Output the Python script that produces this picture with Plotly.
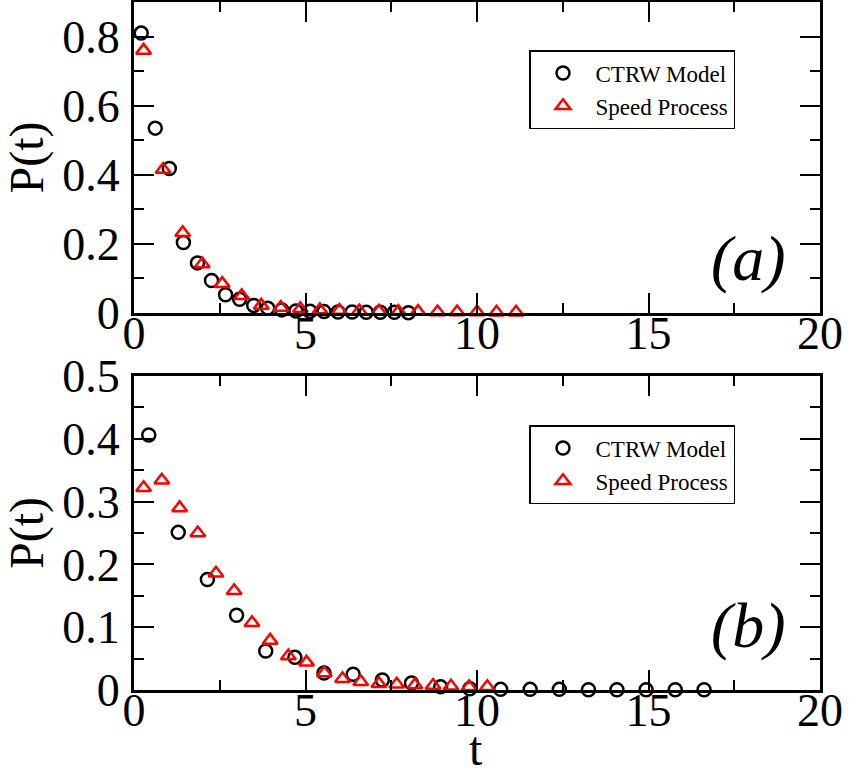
import plotly.graph_objects as go
from plotly.subplots import make_subplots

# Panel (a)
t_ctrw_a = [0.21, 0.62, 1.03, 1.44, 1.85, 2.26, 2.67, 3.08, 3.49, 3.90,
            4.31, 4.72, 5.13, 5.54, 5.95, 6.36, 6.77, 7.18, 7.59, 8.00]
p_ctrw_a = [0.81, 0.535, 0.418, 0.204, 0.145, 0.094, 0.053, 0.040, 0.022, 0.014,
            0.009, 0.006, 0.005, 0.004, 0.003, 0.003, 0.002, 0.002, 0.002, 0.001]
t_speed_a = [0.28, 0.85, 1.42, 1.99, 2.57, 3.14, 3.71, 4.28, 4.85, 5.42,
             5.99, 6.57, 7.14, 7.71, 8.28, 8.85, 9.42, 10.00, 10.57, 11.14]
p_speed_a = [0.76, 0.415, 0.232, 0.142, 0.085, 0.050, 0.022, 0.016, 0.012, 0.009,
             0.007, 0.006, 0.005, 0.004, 0.004, 0.003, 0.003, 0.003, 0.002, 0.002]

# Panel (b)
t_ctrw_b = [0.43, 1.29, 2.14, 2.99, 3.84, 4.69, 5.54, 6.39, 7.24, 8.09,
            8.94, 9.79, 10.69, 11.55, 12.40, 13.25, 14.08, 14.93, 15.78, 16.62]
p_ctrw_b = [0.406, 0.251, 0.176, 0.119, 0.062, 0.052, 0.027, 0.025, 0.016, 0.011,
            0.005, 0.002, 0.001, 0.001, 0.001, 0.0005, 0.0005, 0.0005, 0.0003, 0.0003]
t_speed_b = [0.28, 0.81, 1.33, 1.86, 2.39, 2.92, 3.44, 3.97, 4.50, 5.03,
             5.55, 6.08, 6.61, 7.14, 7.66, 8.19, 8.72, 9.24, 9.77, 10.30]
p_speed_b = [0.322, 0.334, 0.290, 0.250, 0.186, 0.158, 0.107, 0.079, 0.054, 0.044,
             0.027, 0.018, 0.013, 0.010, 0.009, 0.008, 0.007, 0.006, 0.005, 0.005]

series_names = ["CTRW Model", "Speed Process"]
panel_labels = ["(a)", "(b)"]

FONT = "Liberation Serif, Times New Roman, serif"
W, H = 849, 778
ML, MR, MT, MB = 134, 29, 2, 88
plot_h = H - MT - MB

def py(pix):
    # pixel row -> paper y
    return (H - MB - pix) / plot_h

def px(pix):
    return (pix - ML) / (W - ML - MR)

fig = make_subplots(rows=2, cols=1)

circle = dict(symbol="circle-open", size=13, color="black", line=dict(width=2.5, color="black"))
tri = dict(symbol="triangle-up-open", size=13, color="red", line=dict(width=2.5, color="red"))

for row, (tc, pc, ts, ps, leg) in enumerate(
        [(t_ctrw_a, p_ctrw_a, t_speed_a, p_speed_a, "legend"),
         (t_ctrw_b, p_ctrw_b, t_speed_b, p_speed_b, "legend2")], start=1):
    fig.add_trace(go.Scatter(x=tc, y=pc, mode="markers", name=series_names[0],
                             marker=circle, cliponaxis=False, legend=leg), row=row, col=1)
    fig.add_trace(go.Scatter(x=ts, y=ps, mode="markers", name=series_names[1],
                             marker=tri, cliponaxis=False, legend=leg), row=row, col=1)

axis_common = dict(showline=True, linecolor="black", linewidth=3, mirror="ticks",
                   ticks="inside", ticklen=20, tickwidth=2, tickcolor="black",
                   showgrid=False, zeroline=False, automargin=False,
                   tickfont=dict(family=FONT, size=46, color="black"))

fig.update_xaxes(**axis_common, range=[0, 20], dtick=5, tick0=0, ticklabelstandoff=-22,
                 minor=dict(ticks="inside", ticklen=10, tickwidth=2, dtick=2.5, tickcolor="black"))
fig.update_xaxes(domain=[0, 1])
fig.update_yaxes(**axis_common, ticklabelstandoff=2)

fig.update_yaxes(row=1, col=1, range=[0, 0.9], tickvals=[0, 0.2, 0.4, 0.6, 0.8],
                 ticktext=["0", "0.2", "0.4", "0.6", "0.8"], domain=[py(313), 1.0],
                 minor=dict(ticks="inside", ticklen=10, tickwidth=2, dtick=0.1, tickcolor="black"),
                 title=dict(text="P(t)", font=dict(family=FONT, size=48, color="black"), standoff=8))
fig.update_yaxes(row=2, col=1, range=[0, 0.5], tickvals=[0, 0.1, 0.2, 0.3, 0.4, 0.5],
                 ticktext=["0", "0.1", "0.2", "0.3", "0.4", "0.5"], domain=[0, py(376)],
                 minor=dict(ticks="inside", ticklen=10, tickwidth=2, dtick=0.05, tickcolor="black"),
                 title=dict(text="P(t)", font=dict(family=FONT, size=48, color="black"), standoff=8))

# x-axis title of the lower panel
fig.add_annotation(text="t", xref="paper", yref="paper", x=px(476), y=py(777),
                   showarrow=False, xanchor="center", yanchor="bottom",
                   font=dict(family=FONT, size=48, color="black"))

legend_style = dict(bgcolor="white", bordercolor="black", borderwidth=1.5,
                    font=dict(family=FONT, size=23, color="black"),
                    xanchor="left", yanchor="top", itemwidth=55, tracegroupgap=0)
fig.update_layout(
    legend=dict(**legend_style, x=px(529), y=py(50)),
    legend2=dict(**legend_style, x=px(529), y=py(425)),
)

for lab, ypix in zip(panel_labels, [258, 625]):
    fig.add_annotation(text="<i>" + lab + "</i>", xref="paper", yref="paper",
                       x=px(748), y=py(ypix), showarrow=False,
                       xanchor="center", yanchor="middle",
                       font=dict(family=FONT, size=64, color="black"))

fig.update_layout(width=W, height=H, margin=dict(l=ML, r=MR, t=MT, b=MB, autoexpand=False),
                  font=dict(family=FONT, color="black"),
                  paper_bgcolor="white", plot_bgcolor="white", showlegend=True)

fig.write_html("out.html")
